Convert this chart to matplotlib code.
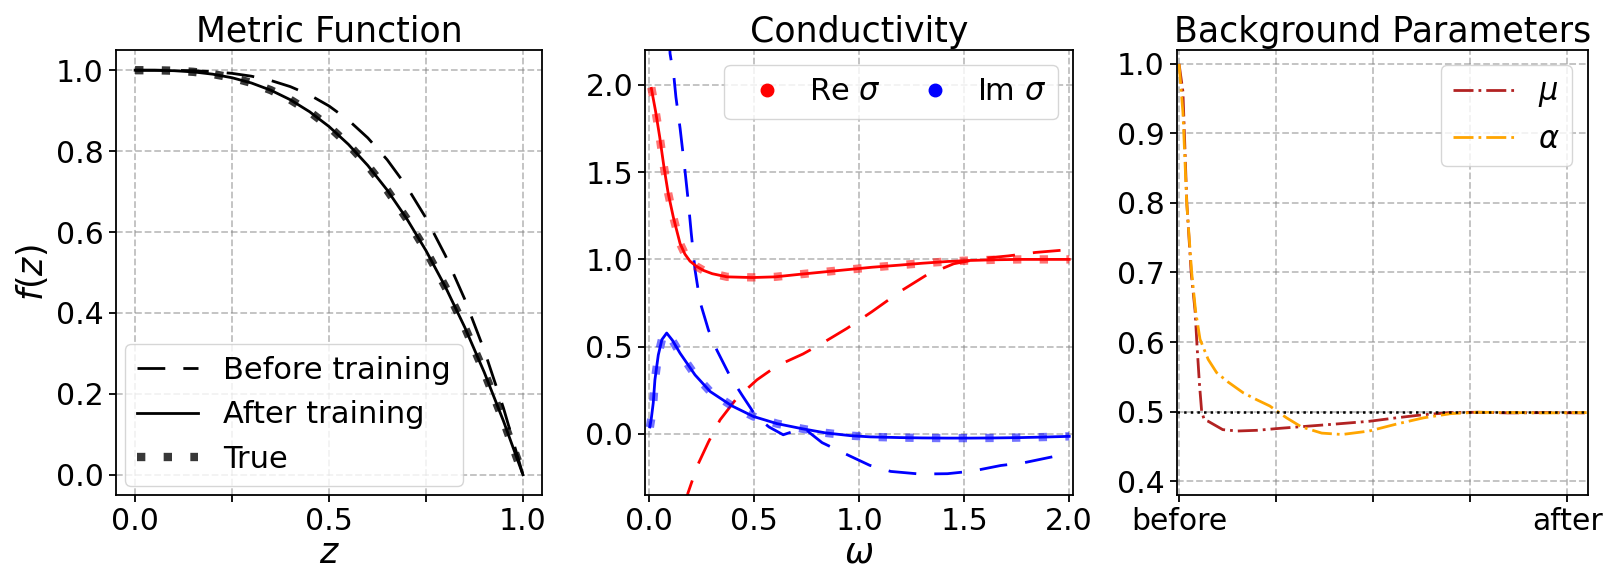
import matplotlib
matplotlib.use('Agg')
import matplotlib.pyplot as plt
from matplotlib.lines import Line2D

# ---- Metric function f(z) ----
z = [0.0, 0.05, 0.1, 0.15, 0.2, 0.25, 0.3, 0.35, 0.4, 0.45, 0.5,
     0.55, 0.6, 0.65, 0.7, 0.75, 0.8, 0.85, 0.9, 0.95, 1.0]
f_true = [1.0, 0.9999, 0.9988, 0.996, 0.9905, 0.9817, 0.9687, 0.9507, 0.9272, 0.8973, 0.8606,
          0.8164, 0.7641, 0.7033, 0.6333, 0.5539, 0.4645, 0.3647, 0.2542, 0.1328, 0.0]
f_after = [1.0, 0.9999, 0.9988, 0.9958, 0.9902, 0.9814, 0.9684, 0.9505, 0.9271, 0.8973, 0.8608,
           0.8167, 0.7645, 0.7037, 0.6336, 0.5541, 0.4645, 0.3645, 0.2538, 0.1323, 0.0]
f_before = [1.0, 1.0, 0.9997, 0.9987, 0.9964, 0.9922, 0.9852, 0.9746, 0.9595, 0.9389, 0.9116,
            0.8766, 0.8327, 0.7786, 0.713, 0.6346, 0.542, 0.4338, 0.3084, 0.1643, 0.0]

# ---- Conductivity ----
w_re = [0.01, 0.03, 0.05, 0.07, 0.09, 0.115, 0.147, 0.17, 0.194, 0.225, 0.258, 0.3, 0.37,
        0.49, 0.6, 0.72, 0.83, 0.95, 1.06, 1.19, 1.3, 1.42, 1.53, 1.65, 1.77, 1.88, 2.0]
re_true = [1.985, 1.85, 1.70, 1.53, 1.38, 1.24, 1.09, 1.03, 0.99, 0.96, 0.937, 0.92, 0.90,
           0.897, 0.90, 0.915, 0.928, 0.942, 0.954, 0.967, 0.978, 0.988, 0.994, 0.998, 1.0, 1.0, 1.0]
re_after = [1.98, 1.85, 1.70, 1.53, 1.38, 1.24, 1.09, 1.03, 0.99, 0.96, 0.937, 0.918, 0.90,
            0.896, 0.90, 0.915, 0.928, 0.942, 0.955, 0.967, 0.978, 0.988, 0.994, 0.998, 1.0, 1.0, 1.0]
w_im = [0.003, 0.01, 0.019, 0.027, 0.043, 0.06, 0.083, 0.11, 0.147, 0.218, 0.29, 0.393, 0.496,
        0.608, 0.727, 0.839, 0.958, 1.053, 1.19, 1.3, 1.42, 1.53, 1.65, 1.77, 1.88, 2.0]
im_true = [0.038, 0.09, 0.177, 0.31, 0.452, 0.54, 0.576, 0.535, 0.462, 0.338, 0.243, 0.161, 0.10,
           0.059, 0.030, 0.006, -0.01, -0.017, -0.021, -0.023, -0.024, -0.024, -0.023, -0.021, -0.018, -0.014]
im_after = [0.04, 0.09, 0.177, 0.31, 0.452, 0.54, 0.578, 0.537, 0.462, 0.338, 0.243, 0.161, 0.10,
            0.059, 0.030, 0.006, -0.01, -0.017, -0.021, -0.023, -0.024, -0.024, -0.023, -0.021, -0.018, -0.014]
w_re_before = [0.17, 0.184, 0.23, 0.282, 0.337, 0.417, 0.513, 0.608, 0.732, 0.823, 0.942, 1.06,
               1.2, 1.32, 1.45, 1.58, 1.71, 1.84, 2.0]
re_before = [-0.42, -0.34, -0.18, -0.046, 0.08, 0.205, 0.31, 0.39, 0.458, 0.519, 0.605, 0.70,
             0.82, 0.91, 0.975, 1.005, 1.02, 1.04, 1.056]
w_im_before = [0.095, 0.099, 0.118, 0.127, 0.147, 0.17, 0.186, 0.2, 0.218, 0.242, 0.282, 0.322,
               0.385, 0.441, 0.509, 0.57, 0.638, 0.70, 0.735, 0.823, 0.958, 1.05, 1.15, 1.29,
               1.42, 1.54, 1.674, 1.785, 1.921, 2.0]
im_before = [2.3, 2.18, 2.04, 1.93, 1.75, 1.51, 1.33, 1.15, 0.94, 0.756, 0.595, 0.48,
             0.33, 0.224, 0.10, 0.04, -0.005, 0.02, 0.034, -0.05, -0.128, -0.18, -0.215, -0.23,
             -0.228, -0.213, -0.181, -0.165, -0.131, -0.115]

# ---- Background parameters ----
step_mu = [0, 40, 80, 125, 165, 185, 210, 233, 260, 300, 350, 450, 600, 800, 1050, 1330,
           1610, 1960, 2240, 2520, 2800, 3080, 3400, 3800, 4200]
mu = [1.0, 0.96, 0.80, 0.70, 0.645, 0.595, 0.54, 0.50, 0.488, 0.486, 0.482, 0.474, 0.472,
      0.473, 0.476, 0.479, 0.482, 0.486, 0.491, 0.4955, 0.4985, 0.499, 0.498, 0.4985, 0.498]
step_alpha = [0, 40, 79, 130, 170, 216, 300, 387, 500, 661, 800, 935, 1107, 1260, 1470, 1680,
              1960, 2240, 2520, 2800, 3080, 3430, 3780, 4200]
alpha = [1.0, 0.93, 0.80, 0.70, 0.645, 0.604, 0.575, 0.556, 0.543, 0.527, 0.517, 0.508, 0.491,
         0.478, 0.469, 0.467, 0.472, 0.482, 0.491, 0.497, 0.499, 0.4985, 0.498, 0.4985]
param_true = 0.5
bg_ticks = [0, 1000, 2000, 3000, 4000]
bg_ticklabels = ['before', '', '', '', 'after']

TICK_FS = 21.5
LEG_FS = 22
TITLE_FS = 25
LABEL_FS = 25
DASH = (0, (10, 6.5))
DOTS = (0, (1, 2.2))
DASHDOT = (0, (7.2, 1.8, 1, 1.8))

plt.rcParams['axes.linewidth'] = 1.3
plt.rcParams['xtick.major.width'] = 1.3
plt.rcParams['ytick.major.width'] = 1.3
plt.rcParams['xtick.major.size'] = 5
plt.rcParams['ytick.major.size'] = 5

fig = plt.figure(figsize=(16.05, 5.7), dpi=100)
ax1 = fig.add_axes([0.0721, 0.1316, 0.2658, 0.7807])
ax2 = fig.add_axes([0.4019, 0.1316, 0.2669, 0.7807])
ax3 = fig.add_axes([0.7331, 0.1316, 0.2561, 0.7807])


def style(ax):
    ax.grid(True, linestyle='--', color='gray', alpha=0.5, linewidth=1.3)
    ax.tick_params(labelsize=TICK_FS)


# Metric function
ax1.plot(z, f_before, color='k', linestyle=DASH, lw=2, label='Before training')
ax1.plot(z, f_after, color='k', lw=2, label='After training')
ax1.plot(z, f_true, color='k', alpha=0.78, linestyle=DOTS, lw=6, label='True')
ax1.set_xlim(-0.05, 1.05)
ax1.set_ylim(-0.05, 1.05)
ax1.set_xticks([0.0, 0.25, 0.5, 0.75, 1.0])
ax1.set_xticklabels(['0.0', '', '0.5', '', '1.0'])
ax1.set_title('Metric Function', fontsize=TITLE_FS)
ax1.set_xlabel('$z$', fontsize=LABEL_FS, labelpad=0)
ax1.set_ylabel('$f(z)$', fontsize=LABEL_FS)
ax1.legend(loc='lower left', fontsize=LEG_FS, borderaxespad=0.3)
style(ax1)

# Conductivity
ax2.plot(w_re_before, re_before, color='red', linestyle=DASH, lw=2)
ax2.plot(w_im_before, im_before, color='blue', linestyle=DASH, lw=2)
ax2.plot(w_re, re_after, color='red', lw=2)
ax2.plot(w_im, im_after, color='blue', lw=2)
ax2.plot(w_re, re_true, color='red', alpha=0.55, linestyle=DOTS, lw=6)
ax2.plot(w_im, im_true, color='blue', alpha=0.55, linestyle=DOTS, lw=6)
ax2.set_xlim(-0.02, 2.02)
ax2.set_ylim(-0.35, 2.2)
ax2.set_xticks([0.0, 0.5, 1.0, 1.5, 2.0])
ax2.set_yticks([0.0, 0.5, 1.0, 1.5, 2.0])
ax2.set_title('Conductivity', fontsize=TITLE_FS)
ax2.set_xlabel(r'$\omega$', fontsize=LABEL_FS, labelpad=0)
handles = [Line2D([], [], color='red', marker='o', linestyle='none', markersize=9),
           Line2D([], [], color='blue', marker='o', linestyle='none', markersize=9)]
ax2.legend(handles, [r'Re $\sigma$', r'Im $\sigma$'], loc='upper right', ncol=2,
           fontsize=LEG_FS, handletextpad=0.35, columnspacing=0.8)
style(ax2)

# Background parameters
ax3.plot(step_mu, mu, color='firebrick', linestyle=DASHDOT, lw=2, label=r'$\mu$')
ax3.plot(step_alpha, alpha, color='orange', linestyle=DASHDOT, lw=2, label=r'$\alpha$')
ax3.axhline(param_true, color='k', linestyle=':', lw=1.8)
ax3.set_xlim(-25, 4210)
ax3.set_ylim(0.38, 1.02)
ax3.set_xticks(bg_ticks)
ax3.set_xticklabels(bg_ticklabels)
ax3.set_title('Background Parameters', fontsize=TITLE_FS)
ax3.legend(loc='upper right', fontsize=LEG_FS)
style(ax3)

fig.savefig('out.png', dpi=100)
